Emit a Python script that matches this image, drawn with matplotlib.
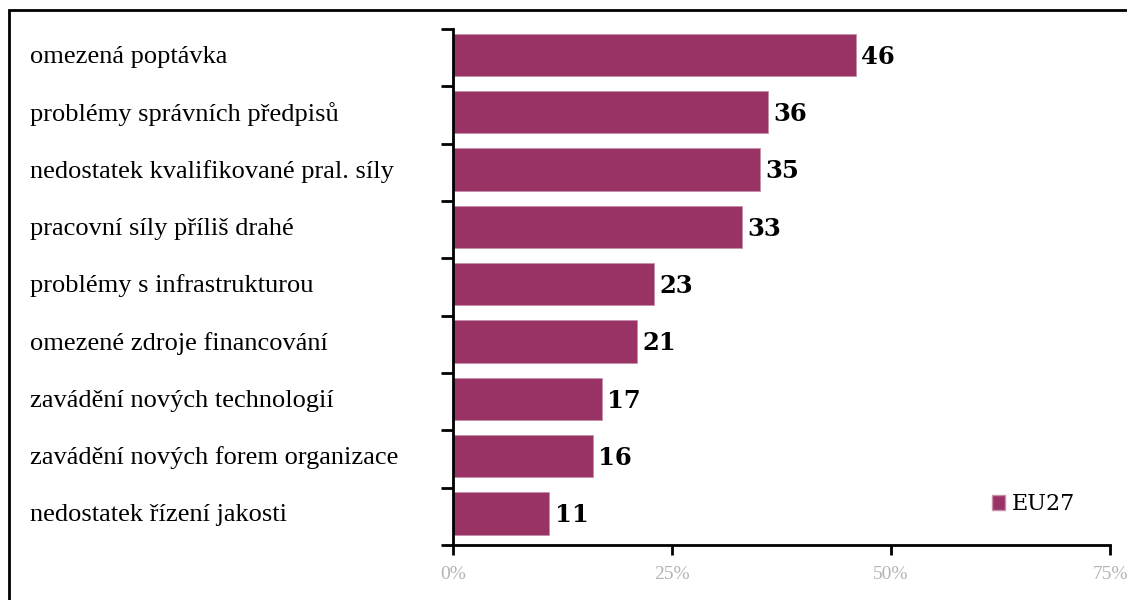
import matplotlib
matplotlib.use("Agg")
import matplotlib.pyplot as plt
from matplotlib.patches import Rectangle, Patch

categories = [
    "omezená poptávka",
    "problémy správních předpisů",
    "nedostatek kvalifikované pral. síly",
    "pracovní síly příliš drahé",
    "problémy s infrastrukturou",
    "omezené zdroje financování",
    "zavádění nových technologií",
    "zavádění nových forem organizace",
    "nedostatek řízení jakosti",
]
values = [46, 36, 35, 33, 23, 21, 17, 16, 11]
xticks = [0, 25, 50, 75]
xticklabels = ["0%", "25%", "50%", "75%"]
series_name = "EU27"

bar_color = "#993366"
W, H = 1127, 600
fig = plt.figure(figsize=(W / 100, H / 100), dpi=100)
fig.patch.set_facecolor("white")

# outer frame
fig.add_artist(Rectangle((9 / W, -0.01), 1.02, 1 - 10 / H + 0.01, transform=fig.transFigure,
                         fill=False, edgecolor="black", linewidth=2))

ax = fig.add_axes([453 / W, 1 - 545 / H, (1110 - 453) / W, (545 - 29) / H])
n = len(categories)
ypos = [n - 1 - i for i in range(n)]
ax.barh([y + 0.05 for y in ypos], values, height=0.74, color=bar_color,
        edgecolor="#c890aa", linewidth=0.6, label=series_name, zorder=2)
ax.set_ylim(-0.5, n - 0.5)
ax.set_xlim(0, 75)

for y, v in zip(ypos, values):
    ax.text(v + 0.6, y + 0.02, str(v), va="center", ha="left", fontsize=17.5, fontweight="bold",
            family="DejaVu Serif", color="black")

ax.set_xticks(xticks)
ax.set_xticklabels(xticklabels, family="Liberation Serif", fontsize=14, color="#b4b4b4")
ax.set_yticks([i - 0.5 for i in range(n + 1)])
ax.set_yticklabels([])
ax.tick_params(axis="y", direction="out", length=9, width=2, color="black")
ax.tick_params(axis="x", direction="out", length=7, width=2, color="black", pad=8)
for s in ["top", "right"]:
    ax.spines[s].set_visible(False)
for s in ["left", "bottom"]:
    ax.spines[s].set_linewidth(2)

for y, c in zip(ypos, categories):
    yy = ax.transData.transform((0, y + 0.05))[1]
    fig.text(30 / W, yy / H - 0.003, c, ha="left", va="center", fontsize=19,
             family="Liberation Serif", color="black")

leg = ax.legend(handles=[Patch(facecolor=bar_color, edgecolor="#c890aa")], labels=[series_name],
                loc="center left", bbox_to_anchor=((981 - 453) / (1110 - 453), (545 - 504) / (545 - 29)),
                frameon=False, prop={"family": "DejaVu Serif", "size": 16},
                handlelength=0.6, handleheight=0.65, handletextpad=0.3, borderpad=0)

fig.savefig("out.png", dpi=100, facecolor="white")
